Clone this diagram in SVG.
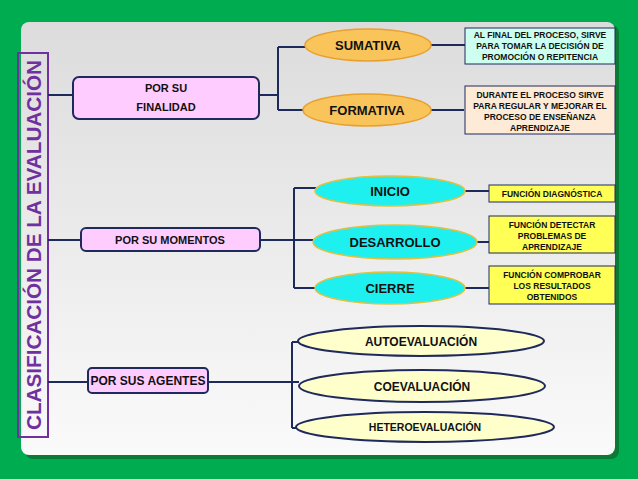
<svg xmlns="http://www.w3.org/2000/svg" width="638" height="479" viewBox="0 0 638 479">
<defs>
<linearGradient id="pg" x1="0" y1="0" x2="0" y2="1"><stop offset="0" stop-color="#dcdcdc"/><stop offset="1" stop-color="#fafafa"/></linearGradient>
</defs>
<style>
text{font-family:"Liberation Sans",Arial,sans-serif;font-weight:bold;fill:#111;text-anchor:middle}
.c{fill:none;stroke:#1f2a5c;stroke-width:2}
.cat{fill:#ffccff;stroke:#1f2a5c;stroke-width:2}
.org{fill:#f9c45a;stroke:#e8a030;stroke-width:1.5}
.cy{fill:#1ef0f0;stroke:#e0c040;stroke-width:1.5}
.ly{fill:#ffffcc;stroke:#1f2a5c;stroke-width:2}
.yb{fill:#ffff55;stroke:#1f2a5c;stroke-width:1}
.s{font-size:8.5px}
</style>
<rect width="638" height="479" fill="#00ac50"/>
<rect x="25" y="25" width="594" height="434" rx="8" fill="#0a7a35"/>
<rect x="21" y="22" width="594" height="433" rx="8" fill="url(#pg)"/>
<g id="title"><rect x="18" y="53" width="30" height="384" fill="none" stroke="#7030a0" stroke-width="2"/>
<text transform="translate(41,245) rotate(-90)" font-size="21" textLength="370" lengthAdjust="spacingAndGlyphs" style="fill:#7030a0">CLASIFICACIÓN DE LA EVALUACIÓN</text></g>
<g id="connectors">
<path class="c" d="M48 95H73M259 95H278M278 47V110M278 47H306M278 110H305M431 45H465M431 110H464"/>
<path class="c" d="M48 240H81M260 240H294M294 188V288M294 188H316M294 240H313M294 288H316M465 191H489M477 242H489M465 288H489"/>
<path class="c" d="M48 382H88M208 382H299M292 342V428M292 342H299M292 428H297"/>
</g>
<g id="finalidad"><rect class="cat" x="73" y="77" width="186" height="42" rx="6"/><text x="166" y="92" font-size="11">POR SU</text><text x="166" y="111" font-size="11">FINALIDAD</text></g>
<g id="sumativa"><ellipse class="org" cx="368" cy="45" rx="63" ry="16"/><text x="368" y="50" font-size="13">SUMATIVA</text></g>
<g id="formativa"><ellipse class="org" cx="367" cy="110" rx="64" ry="16"/><text x="367" y="115" font-size="13">FORMATIVA</text></g>
<g id="sumativa-d"><rect x="465" y="28" width="150" height="36" fill="#ccfff0" stroke="#1f2a5c"/><text class="s" x="540" y="38">AL FINAL DEL PROCESO, SIRVE</text><text class="s" x="540" y="49">PARA TOMAR LA DECISIÓN DE</text><text class="s" x="540" y="60">PROMOCIÓN O REPITENCIA</text></g>
<g id="formativa-d"><rect x="465" y="86" width="150" height="48" fill="#fdead7" stroke="#1f2a5c"/><text class="s" x="540" y="98">DURANTE EL PROCESO SIRVE</text><text class="s" x="540" y="109">PARA REGULAR Y MEJORAR EL</text><text class="s" x="540" y="120">PROCESO DE ENSEÑANZA</text><text class="s" x="540" y="131">APRENDIZAJE</text></g>
<g id="momentos"><rect class="cat" x="81" y="228" width="179" height="23" rx="5"/><text x="170" y="244" font-size="11">POR SU MOMENTOS</text></g>
<g id="inicio"><ellipse class="cy" cx="390" cy="191" rx="75" ry="15"/><text x="390" y="196" font-size="13">INICIO</text></g>
<g id="desarrollo"><ellipse class="cy" cx="395" cy="242" rx="82" ry="17"/><text x="395" y="247" font-size="13">DESARROLLO</text></g>
<g id="cierre"><ellipse class="cy" cx="390" cy="288" rx="75" ry="16"/><text x="390" y="293" font-size="13">CIERRE</text></g>
<g id="inicio-d"><rect class="yb" x="489" y="185" width="126" height="17"/><text class="s" x="552" y="197">FUNCIÓN DIAGNÓSTICA</text></g>
<g id="desarrollo-d"><rect class="yb" x="489" y="216" width="126" height="37"/><text class="s" x="552" y="228">FUNCIÓN DETECTAR</text><text class="s" x="552" y="239">PROBLEMAS DE</text><text class="s" x="552" y="250">APRENDIZAJE</text></g>
<g id="cierre-d"><rect class="yb" x="489" y="266" width="126" height="38"/><text class="s" x="552" y="278">FUNCIÓN COMPROBAR</text><text class="s" x="552" y="289">LOS RESULTADOS</text><text class="s" x="552" y="300">OBTENIDOS</text></g>
<g id="agentes"><rect class="cat" x="88" y="368" width="120" height="25" rx="4" /><text x="148" y="385" font-size="12">POR SUS AGENTES</text></g>
<g id="auto"><ellipse class="ly" cx="421" cy="341" rx="123" ry="15"/><text x="421" y="346" font-size="12">AUTOEVALUACIÓN</text></g>
<g id="coev"><ellipse class="ly" cx="422" cy="386" rx="123" ry="16"/><text x="422" y="391" font-size="12">COEVALUACIÓN</text></g>
<g id="hetero"><ellipse class="ly" cx="425" cy="427" rx="129" ry="15"/><text x="425" y="431" font-size="10.5">HETEROEVALUACIÓN</text></g>
</svg>
